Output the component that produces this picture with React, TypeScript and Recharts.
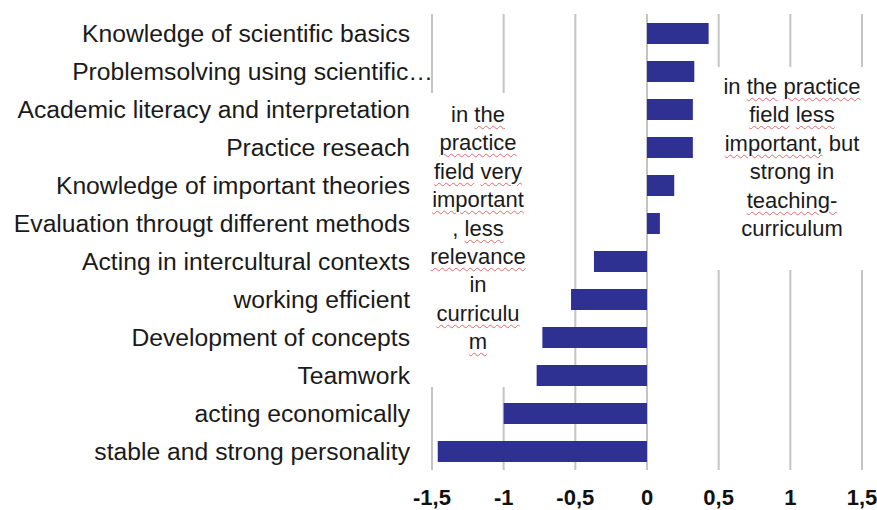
import { BarChart, Bar, XAxis, YAxis, CartesianGrid } from 'recharts'

const competences = [
  'Knowledge of scientific basics',
  'Problemsolving using scientific…',
  'Academic literacy and interpretation',
  'Practice reseach',
  'Knowledge of important theories',
  'Evaluation througt different methods',
  'Acting in intercultural contexts',
  'working efficient',
  'Development of concepts',
  'Teamwork',
  'acting economically',
  'stable and strong personality',
]

const differences = [0.43, 0.33, 0.32, 0.32, 0.19, 0.09, -0.37, -0.53, -0.73, -0.77, -1.0, -1.46]

const xTicks = [-1.5, -1, -0.5, 0, 0.5, 1, 1.5]

const leftNote: string[][] = [
  ['in ', '~the'],
  ['~practice'],
  ['~field', ' ', '~very'],
  ['~important'],
  [', ', '~less'],
  ['~relevance'],
  ['in'],
  ['~curriculu'],
  ['~m'],
]

const rightNote: string[][] = [
  ['in ', '~the', ' ', '~practice'],
  ['~field', ' ', '~less'],
  ['~important,', ' but'],
  ['strong in'],
  ['~teaching-'],
  ['curriculum'],
]

const font = '"Liberation Sans", Arial, sans-serif'

// truncated labels spill a bit past the others, like the original
function CategoryTick(props: any) {
  const { x, y, payload } = props
  const label: string = payload.value
  const dx = label.endsWith('…') ? 23 : 0
  return (
    <text x={x + dx} y={y} dy="0.355em" textAnchor="end" fill="#1a1a1a" fontSize={24.7} fontFamily={font}>
      {label}
    </text>
  )
}

function Note({ lines, left, top, width, height, pad }: { lines: string[][]; left: number; top: number; width: number; height: number; pad: number }) {
  return (
    <div
      style={{
        position: 'absolute',
        left,
        top,
        width,
        height,
        paddingTop: pad,
        boxSizing: 'border-box',
        background: '#fff',
        textAlign: 'center',
        fontFamily: font,
        fontSize: 22,
        lineHeight: '28.4px',
        color: '#1a1a1a',
      }}
    >
      {lines.map((parts, i) => (
        <div key={i} style={{ whiteSpace: 'pre' }}>
          {parts.map((p, j) =>
            p.startsWith('~') ? (
              <span
                key={j}
                style={{
                  textDecorationLine: 'underline',
                  textDecorationStyle: 'wavy',
                  textDecorationColor: '#e06a6a',
                  textDecorationThickness: '1px',
                  textUnderlineOffset: '3px',
                }}
              >
                {p.slice(1)}
              </span>
            ) : (
              <span key={j}>{p}</span>
            )
          )}
        </div>
      ))}
    </div>
  )
}

export default function App() {
  const data = competences.map((name, i) => ({ name, value: differences[i] }))

  return (
    <div style={{ position: 'absolute', left: 0, top: 0, width: 877, height: 510, background: '#fff' }}>
      <BarChart
        width={877}
        height={510}
        data={data}
        layout="vertical"
        margin={{ top: 14, right: 15, bottom: 0, left: 0 }}
        barSize={21}
      >
        <CartesianGrid horizontal={false} stroke="#c4c4c4" strokeWidth={2} />
        <XAxis
          type="number"
          domain={[-1.5, 1.5]}
          ticks={xTicks}
          axisLine={false}
          tickLine={false}
          height={40}
          tickMargin={13}
          tickFormatter={(v: number) => String(v).replace('.', ',')}
          tick={{ fill: '#111', fontSize: 22, fontWeight: 'bold', fontFamily: font }}
        />
        <YAxis
          type="category"
          dataKey="name"
          width={432}
          axisLine={false}
          tickLine={false}
          tickMargin={16}
          interval={0}
          tick={<CategoryTick />}
        />
        <Bar dataKey="value" fill="#2e3192" isAnimationActive={false} />
      </BarChart>
      <Note lines={leftNote} left={425} top={93} width={106} height={294} pad={8} />
      <Note lines={rightNote} left={712} top={67} width={160} height={203} pad={6} />
    </div>
  )
}
